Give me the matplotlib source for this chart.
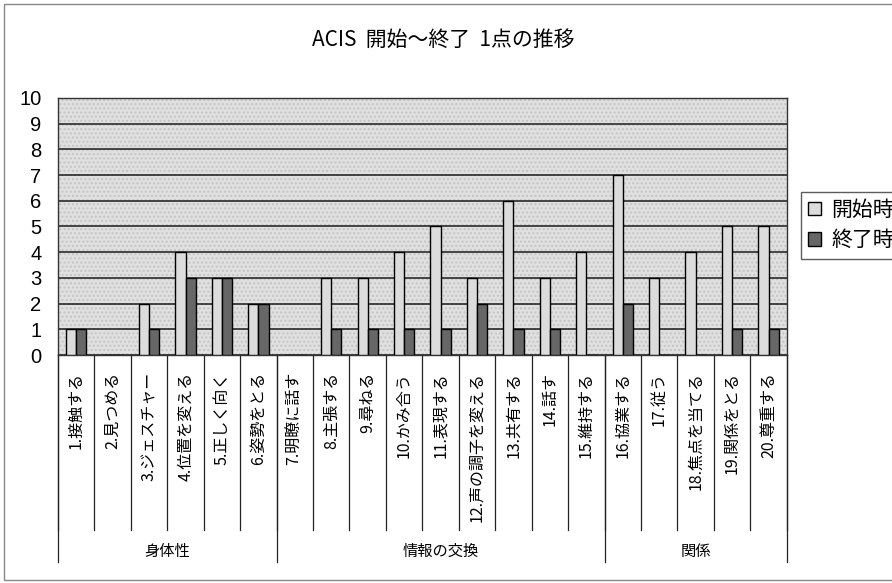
import numpy as np
import matplotlib.pyplot as plt
from matplotlib.patches import Rectangle, Patch

plt.rcParams['font.family'] = ['Noto Sans CJK JP', 'DejaVu Sans']

# 項目名とグループ
items = ['1.接触する', '2.見つめる', '3.ジェスチャー', '4.位置を変える', '5.正しく向く',
         '6.姿勢をとる', '7.明瞭に話す', '8.主張する', '9.尋ねる', '10.かみ合う',
         '11.表現する', '12.声の調子を変える', '13.共有する', '14.話す', '15.維持する',
         '16.協業する', '17.従う', '18.焦点を当てる', '19.関係をとる', '20.尊重する']
groups = ['身体性', '情報の交換', '関係']
group_sizes = [6, 9, 5]

start = [1, 0, 2, 4, 3, 2, 0, 3, 3, 4, 5, 3, 6, 3, 4, 7, 3, 4, 5, 5]
end = [1, 0, 1, 3, 3, 2, 0, 1, 1, 1, 1, 2, 1, 1, 0, 2, 0, 0, 1, 1]

fig = plt.figure(figsize=(8.92, 5.83), dpi=100)
ax = fig.add_axes([0.065, 0.391, 0.817, 0.441])

x = np.arange(len(items))
w = 0.28

# 背景の網掛け
ax.set_facecolor('#e0e0e0')
ax.add_patch(Rectangle((0, 0), 1, 1, transform=ax.transAxes, facecolor='none',
                       edgecolor='#c4c4c4', hatch='....', lw=0, zorder=0))

ax.bar(x - w / 2, start, w, color='#dcdcdc', edgecolor='black', lw=1, zorder=3,
       label='開始時')
ax.bar(x + w / 2, end, w, color='#676767', edgecolor='black', lw=1, zorder=3,
       label='終了時')

ax.set_xlim(-0.5, len(items) - 0.5)
ax.set_ylim(0, 10)
ax.set_yticks(range(0, 11))
ax.tick_params(axis='y', length=0, labelsize=14.5, pad=12)
for lab in ax.get_yticklabels():
    lab.set_fontfamily('Liberation Sans')
ax.set_xticks([])
ax.yaxis.grid(True, color='#1a1a1a', lw=1.1)
ax.set_axisbelow(True)
for s in ax.spines.values():
    s.set_color('#333333')
    s.set_linewidth(1)

# 項目ラベルと区切り線
trans = ax.get_xaxis_transform()
for i, name in enumerate(items):
    ax.text(i, -0.065, name, rotation=90, ha='center', va='top', fontsize=11.5,
            transform=trans)
for b in range(len(items) + 1):
    ax.plot([b - 0.5, b - 0.5], [0, -0.68], color='#222222', lw=0.9,
            transform=trans, clip_on=False)

edges = np.concatenate([[0], np.cumsum(group_sizes)])
for g, name in enumerate(groups):
    mid = (edges[g] + edges[g + 1]) / 2 - 0.5
    ax.text(mid, -0.765, name, ha='center', va='center', fontsize=11,
            transform=trans)
for e in edges:
    ax.plot([e - 0.5, e - 0.5], [0, -0.805], color='#222222', lw=0.9,
            transform=trans, clip_on=False)

fig.text(0.497, 0.931, 'ACIS  開始～終了  1点の推移', ha='center', va='center',
         fontsize=15)

handles = [Patch(facecolor='#dcdcdc', edgecolor='black'),
           Patch(facecolor='#676767', edgecolor='black')]
leg = fig.legend(handles, ['開始時', '終了時'], loc='upper left',
                 bbox_to_anchor=(0.898, 0.671), fontsize=15, frameon=True,
                 fancybox=False, edgecolor='#333333', handlelength=0.6,
                 handleheight=0.6, handletextpad=0.5, borderpad=0.35,
                 labelspacing=0.4, borderaxespad=0)
leg.get_frame().set_linewidth(1)

# 外枠
fig.patches.append(Rectangle((4 / 892, 3 / 583), 1.0, 576 / 583,
                             transform=fig.transFigure, fill=False,
                             edgecolor='#888888', lw=1))

fig.savefig('out.png', dpi=100)
